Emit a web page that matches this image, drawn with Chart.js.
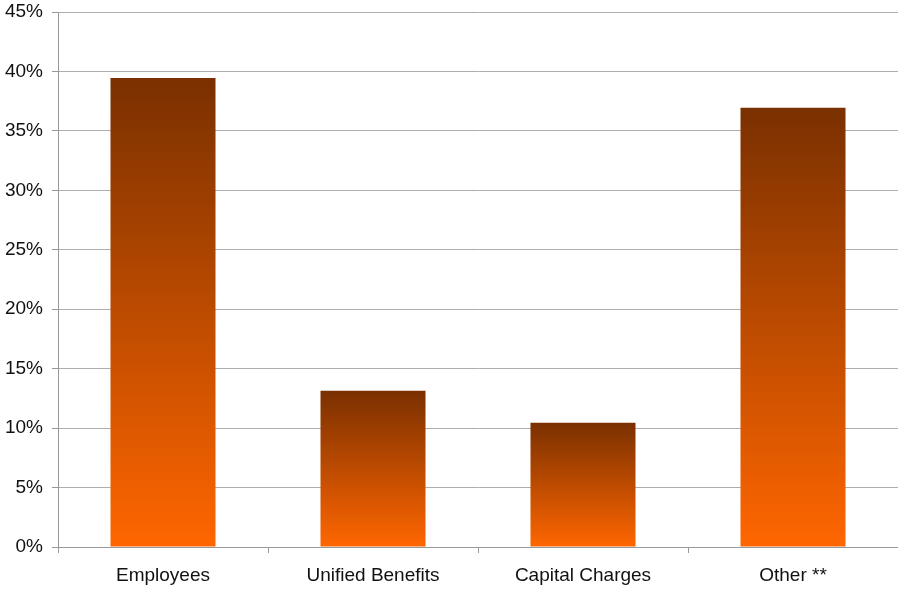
<!DOCTYPE html>
<html>
<head>
<meta charset="utf-8">
<script src="https://cdn.jsdelivr.net/npm/chart.js@4/dist/chart.umd.min.js"></script>
<style>
  html, body { margin: 0; padding: 0; background: #fff; }
  #wrap { width: 898px; height: 589px; }
</style>
</head>
<body>
<div id="wrap"><canvas id="barChart"></canvas></div>
<script>
// Dados do gráfico
const categories = ['Employees', 'Unified Benefits', 'Capital Charges', 'Other **'];
const shares = [39.45, 13.15, 10.45, 36.95];
const yTicks = [0, 5, 10, 15, 20, 25, 30, 35, 40, 45];

const topColor = '#7a3000';
const bottomColor = '#ff6600';

// Degradê vertical por barra (do topo da barra até a base)
function barGradient(context) {
  const chart = context.chart;
  const yScale = chart.scales.y;
  if (!yScale || context.raw === undefined) return bottomColor;
  const top = yScale.getPixelForValue(context.raw);
  const base = yScale.getPixelForValue(0);
  if (!isFinite(top) || !isFinite(base) || top === base) return bottomColor;
  const g = chart.ctx.createLinearGradient(0, top, 0, base);
  g.addColorStop(0, topColor);
  g.addColorStop(1, bottomColor);
  return g;
}

Chart.defaults.font.family = '"Liberation Sans", Arial, sans-serif';
Chart.defaults.font.size = 19;
Chart.defaults.color = '#111';

new Chart(document.getElementById('barChart'), {
  type: 'bar',
  data: {
    labels: categories,
    datasets: [{
      data: shares,
      backgroundColor: barGradient,
      borderWidth: 0,
      barPercentage: 0.5,
      categoryPercentage: 1,
    }]
  },
  options: {
    responsive: true,
    maintainAspectRatio: false,
    animation: false,
    layout: { padding: { left: 0, right: 0, top: 12, bottom: 0 } },
    plugins: {
      legend: { display: false },
      tooltip: { enabled: false },
    },
    scales: {
      x: {
        afterFit: function(axis) {
          axis.height = 42;
          axis.paddingLeft = 0;
          axis.paddingRight = 0;
        },
        grid: {
          drawOnChartArea: false,
          drawTicks: true,
          tickLength: 6,
          tickColor: '#999',
        },
        border: { color: '#999', width: 1 },
        ticks: { padding: 11, color: '#111' },
      },
      y: {
        min: 0,
        max: 45,
        afterBuildTicks: function(axis) {
          axis.ticks = yTicks.map(v => ({ value: v }));
        },
        afterFit: function(axis) {
          axis.width = 58;
          axis.paddingTop = 0;
          axis.paddingBottom = 0;
        },
        grid: {
          color: '#adadad',
          tickLength: 6,
          tickColor: '#999',
        },
        border: { color: '#999', width: 1 },
        ticks: {
          padding: 9,
          color: '#111',
          callback: function(value) { return value + '%'; }
        }
      }
    }
  }
});
</script>
</body>
</html>
